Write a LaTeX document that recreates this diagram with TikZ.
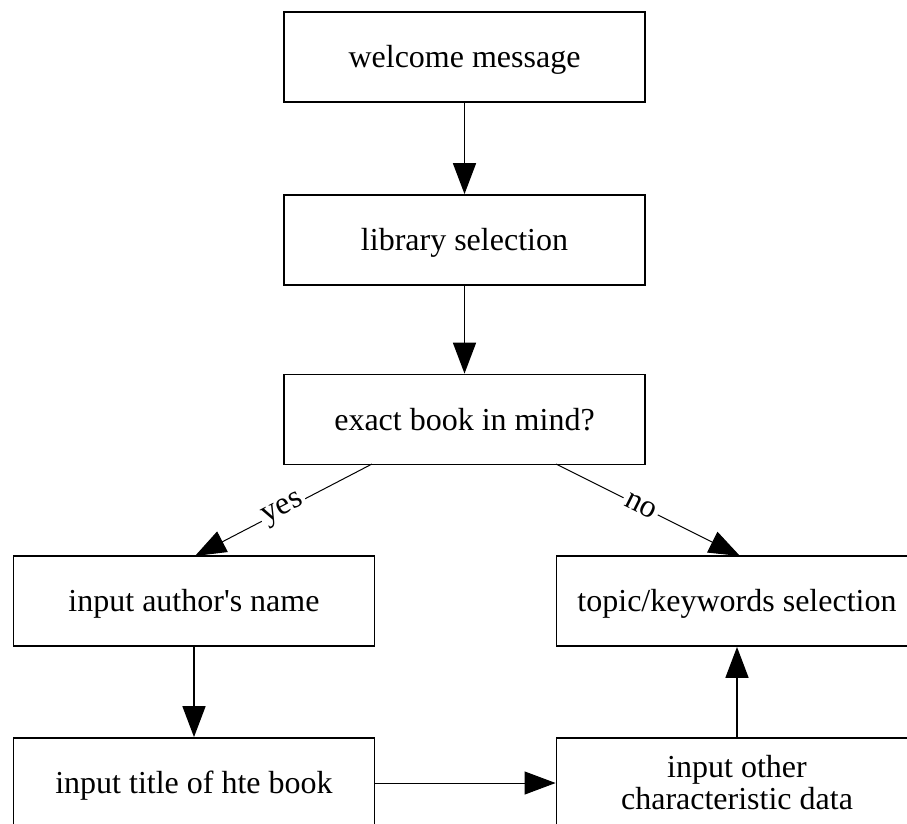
\documentclass[tikz,border=0pt]{standalone}
\usepackage{fontspec}
\setmainfont{Liberation Serif}
\usetikzlibrary{arrows.meta}
\begin{document}
\begin{tikzpicture}[x=1pt,y=-1pt,
  boxbase/.style={draw=black,line width=1.8pt,minimum width=361pt,minimum height=90pt,
    inner sep=0pt,align=center,font=\fontsize{32}{36}\selectfont},
  box/.style={boxbase,text height=29pt,text depth=8pt},
  arr/.style={-{Triangle[length=31pt,width=23pt]},line width=1pt},
  varr/.style={arr,line width=1.7pt},
  lab/.style={fill=white,sloped,inner sep=3pt,font=\fontsize{32}{36}\selectfont}]
\useasboundingbox (0,0) rectangle (907,823);
\begin{scope}
\clip (0,0) rectangle (907,823);
\node[box] (w) at (464.5,57) {welcome message};
\node[box] (l) at (464.5,240) {library selection};
\node[box] (e) at (464.5,419.5) {exact book in mind?};
\node[box] (a) at (194,601) {input author\textquotesingle s name};
\node[box] (t) at (737,601) {topic/keywords selection};
\node[box] (ti) at (194,783) {input title of hte book};
\node[boxbase] (o) at (737,783) {input other\\[-4pt]characteristic data};
\draw[varr] (w) -- (l);
\draw[varr] (l) -- (e);
\coordinate (ey) at (372,464);
\coordinate (ay) at (195,556);
\coordinate (en) at (556,464);
\coordinate (tn) at (740,556);
\draw[arr] (ey) -- node[lab,pos=0.5] {yes} (ay);
\draw[arr] (en) -- node[lab,pos=0.46] {no} (tn);
\draw[varr] (a) -- (ti);
\draw[arr] (ti) -- (o);
\draw[varr] (o) -- (t);
\end{scope}
\end{tikzpicture}
\end{document}
